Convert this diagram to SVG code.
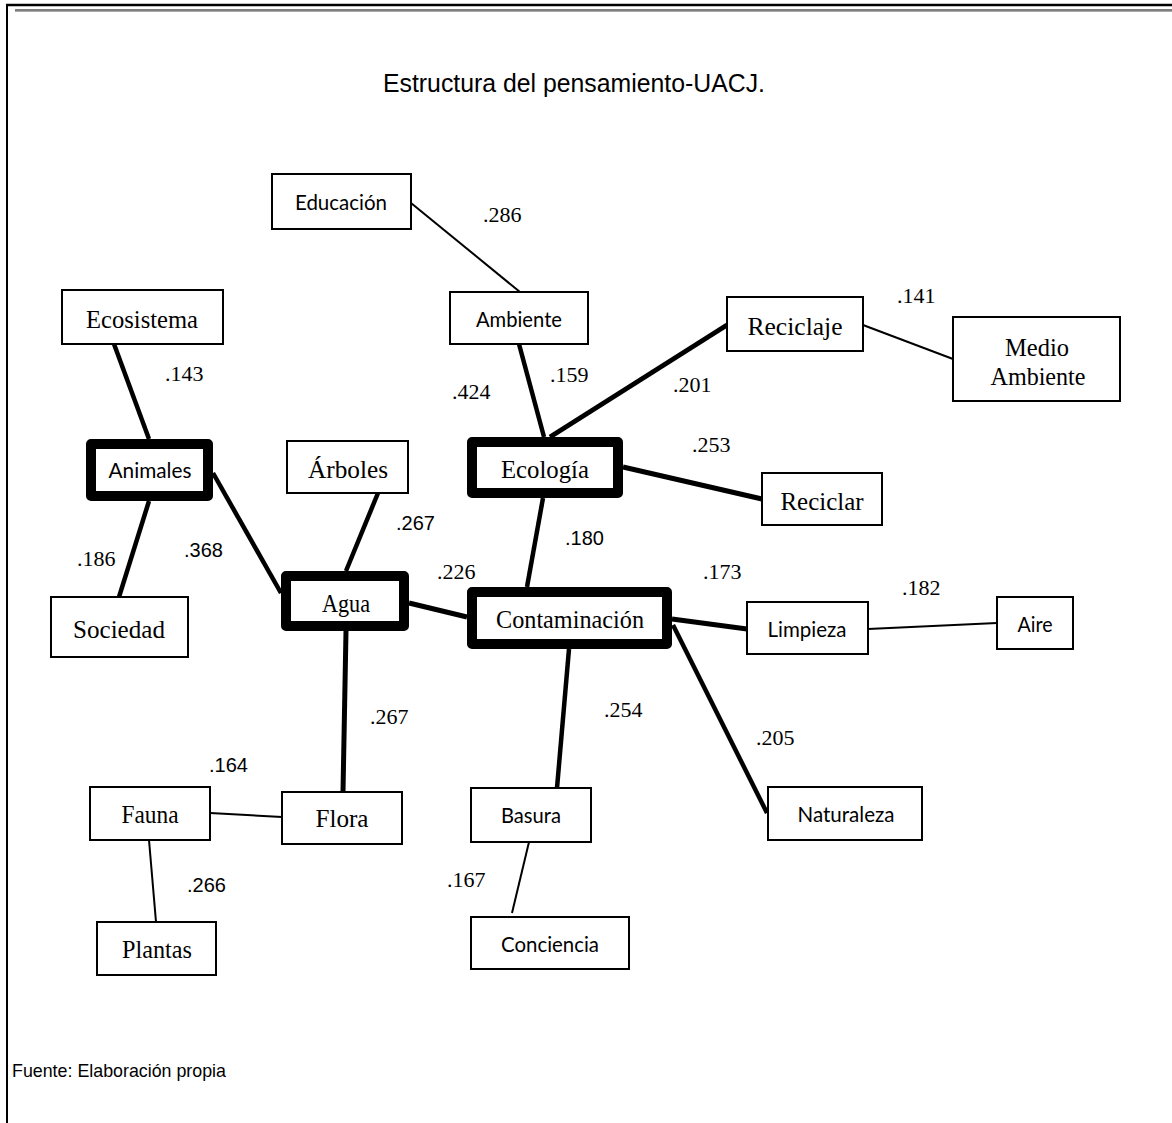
<svg xmlns="http://www.w3.org/2000/svg" width="1172" height="1123" viewBox="0 0 1172 1123">
<style>
.box{fill:#fff;stroke:#000;stroke-width:2}
.hub{fill:#fff;stroke:#000;stroke-width:10;stroke-linejoin:round}
.serif{font-family:"Liberation Serif","Times New Roman",serif;font-size:26px;fill:#000;text-anchor:middle}
.sans{font-family:Lato,"Liberation Sans",sans-serif;font-size:21px;fill:#000;text-anchor:middle}
.ls{font-family:"Liberation Serif","Times New Roman",serif;font-size:22px;fill:#000}
.la{font-family:"Liberation Sans",Arial,sans-serif;font-size:20px;fill:#000}
.thin{stroke:#000;stroke-width:2;fill:none}
.thick{stroke:#000;stroke-width:4.5;fill:none}
.heavy{stroke:#000;stroke-width:5;fill:none}
</style>
<rect x="0" y="0" width="1172" height="1123" fill="#fff"/>
<g id="frame">
<line x1="7" y1="5" x2="7" y2="1123" stroke="#000" stroke-width="2"/>
<line x1="6" y1="5" x2="1172" y2="5" stroke="#000" stroke-width="2.5"/>
<line x1="15" y1="10" x2="1172" y2="10" stroke="#555" stroke-width="1.5"/>
<line x1="15" y1="11.5" x2="1172" y2="11.5" stroke="#aaa" stroke-width="1.2"/>
</g>
<text x="383" y="92" font-family="Liberation Sans, Arial, sans-serif" font-size="25" textLength="382" lengthAdjust="spacingAndGlyphs">Estructura del pensamiento-UACJ.</text>
<text x="12" y="1077" font-family="Liberation Sans, Arial, sans-serif" font-size="19" textLength="214" lengthAdjust="spacingAndGlyphs">Fuente: Elaboración propia</text>
<g id="connectors">
<line class="thin" x1="411" y1="203" x2="520" y2="292"/>
<line class="thick" x1="519" y1="344" x2="544" y2="437"/>
<line class="heavy" x1="550" y1="437" x2="727" y2="325"/>
<line class="thin" x1="863" y1="325" x2="953" y2="359"/>
<line class="heavy" x1="623" y1="467" x2="762" y2="499"/>
<line class="thick" x1="543" y1="498" x2="527" y2="587"/>
<line class="thick" x1="114" y1="344" x2="149" y2="439"/>
<line class="thick" x1="149" y1="501" x2="119" y2="597"/>
<line class="thick" x1="213" y1="473" x2="281" y2="593"/>
<line class="thick" x1="378" y1="493" x2="346" y2="571"/>
<line class="heavy" x1="409" y1="603" x2="467" y2="617"/>
<line class="heavy" x1="346" y1="631" x2="343" y2="792"/>
<line class="thin" x1="210" y1="813" x2="282" y2="817"/>
<line class="thin" x1="149" y1="840" x2="156" y2="922"/>
<line class="heavy" x1="672" y1="619" x2="747" y2="629"/>
<line class="thin" x1="868" y1="629" x2="997" y2="623"/>
<line class="thick" x1="569" y1="649" x2="557" y2="788"/>
<line class="thick" x1="673" y1="625" x2="767" y2="813"/>
<line class="thin" x1="529" y1="842" x2="512" y2="913"/>
</g>
<g id="labels">
<text class="ls" x="165" y="381">.143</text>
<text class="ls" x="77" y="566">.186</text>
<text class="la" x="184" y="557">.368</text>
<text class="la" x="396" y="530">.267</text>
<text class="ls" x="483" y="222">.286</text>
<text class="ls" x="550" y="382">.159</text>
<text class="ls" x="452" y="399">.424</text>
<text class="ls" x="673" y="392">.201</text>
<text class="ls" x="692" y="452">.253</text>
<text class="ls" x="897" y="303">.141</text>
<text class="la" x="565" y="545">.180</text>
<text class="ls" x="437" y="579">.226</text>
<text class="ls" x="703" y="579">.173</text>
<text class="ls" x="902" y="595">.182</text>
<text class="ls" x="370" y="724">.267</text>
<text class="ls" x="604" y="717">.254</text>
<text class="ls" x="756" y="745">.205</text>
<text class="la" x="209" y="772">.164</text>
<text class="la" x="187" y="892">.266</text>
<text class="ls" x="447" y="887">.167</text>
</g>
<g id="n-educacion"><rect class="box" x="272" y="174" width="139" height="55"/><text class="sans" x="341" y="210" textLength="92" lengthAdjust="spacingAndGlyphs">Educación</text></g>
<g id="n-ecosistema"><rect class="box" x="62" y="290" width="161" height="54"/><text class="serif" x="142" y="328" textLength="112" lengthAdjust="spacingAndGlyphs">Ecosistema</text></g>
<g id="n-ambiente"><rect class="box" x="450" y="292" width="138" height="52"/><text class="sans" x="519" y="327" textLength="86" lengthAdjust="spacingAndGlyphs">Ambiente</text></g>
<g id="n-reciclaje"><rect class="box" x="727" y="297" width="136" height="54"/><text class="serif" x="795" y="335" textLength="95" lengthAdjust="spacingAndGlyphs">Reciclaje</text></g>
<g id="n-medio-ambiente"><rect class="box" x="953" y="317" width="167" height="84"/><text class="serif" x="1037" y="356" textLength="64" lengthAdjust="spacingAndGlyphs">Medio</text><text class="serif" x="1038" y="385" textLength="95" lengthAdjust="spacingAndGlyphs">Ambiente</text></g>
<g id="n-animales"><rect class="hub" x="91" y="444" width="117" height="52"/><text class="sans" x="150" y="478" textLength="83" lengthAdjust="spacingAndGlyphs">Animales</text></g>
<g id="n-arboles"><rect class="box" x="287" y="441" width="121" height="52"/><text class="serif" x="348" y="478" textLength="80" lengthAdjust="spacingAndGlyphs">Árboles</text></g>
<g id="n-ecologia"><rect class="hub" x="472" y="442" width="146" height="51"/><text class="serif" x="545" y="478" textLength="88" lengthAdjust="spacingAndGlyphs">Ecología</text></g>
<g id="n-reciclar"><rect class="box" x="762" y="473" width="120" height="52"/><text class="serif" x="822" y="510" textLength="83" lengthAdjust="spacingAndGlyphs">Reciclar</text></g>
<g id="n-sociedad"><rect class="box" x="51" y="597" width="137" height="60"/><text class="serif" x="119" y="638" textLength="92" lengthAdjust="spacingAndGlyphs">Sociedad</text></g>
<g id="n-agua"><rect class="hub" x="286" y="576" width="118" height="50"/><text class="serif" x="346" y="612" textLength="48" lengthAdjust="spacingAndGlyphs">Agua</text></g>
<g id="n-contaminacion"><rect class="hub" x="472" y="592" width="195" height="52"/><text class="serif" x="570" y="628" textLength="148" lengthAdjust="spacingAndGlyphs">Contaminación</text></g>
<g id="n-limpieza"><rect class="box" x="747" y="602" width="121" height="52"/><text class="sans" x="807" y="637" textLength="79" lengthAdjust="spacingAndGlyphs">Limpieza</text></g>
<g id="n-aire"><rect class="box" x="997" y="597" width="76" height="52"/><text class="sans" x="1035" y="632" textLength="35" lengthAdjust="spacingAndGlyphs">Aire</text></g>
<g id="n-fauna"><rect class="box" x="90" y="787" width="120" height="53"/><text class="serif" x="150" y="823" textLength="57" lengthAdjust="spacingAndGlyphs">Fauna</text></g>
<g id="n-flora"><rect class="box" x="282" y="792" width="120" height="52"/><text class="serif" x="342" y="827" textLength="53" lengthAdjust="spacingAndGlyphs">Flora</text></g>
<g id="n-basura"><rect class="box" x="471" y="788" width="120" height="54"/><text class="sans" x="531" y="823" textLength="60" lengthAdjust="spacingAndGlyphs">Basura</text></g>
<g id="n-naturaleza"><rect class="box" x="768" y="787" width="154" height="53"/><text class="sans" x="846" y="822" textLength="97" lengthAdjust="spacingAndGlyphs">Naturaleza</text></g>
<g id="n-plantas"><rect class="box" x="97" y="922" width="119" height="53"/><text class="serif" x="157" y="958" textLength="70" lengthAdjust="spacingAndGlyphs">Plantas</text></g>
<g id="n-conciencia"><rect class="box" x="471" y="917" width="158" height="52"/><text class="sans" x="550" y="952" textLength="98" lengthAdjust="spacingAndGlyphs">Conciencia</text></g>
</svg>
